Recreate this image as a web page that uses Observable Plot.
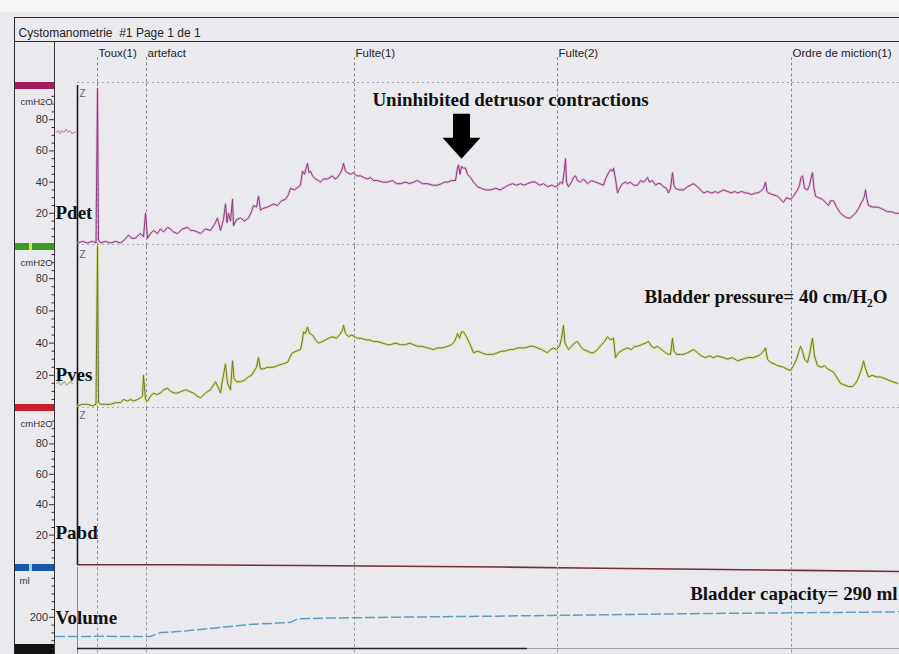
<!DOCTYPE html>
<html>
<head>
<meta charset="utf-8">
<script src="https://cdn.jsdelivr.net/npm/d3@7"></script>
<script src="https://cdn.jsdelivr.net/npm/@observablehq/plot@0.6"></script>
<style>
  html, body { margin: 0; padding: 0; background: #ffffff; }
  #page { position: relative; width: 899px; height: 654px; overflow: hidden; background: #eaeaee; }
  #page .deco { position: absolute; }
  #page svg { position: absolute; left: 0; }
</style>
</head>
<body>
<div id="page">
  <div class="deco" style="left:0;top:0;width:899px;height:12px;background:#f8f8f9"></div>
  <div class="deco" style="left:15px;top:17px;width:884px;height:0;border-top:1.6px solid #2a2a2a"></div>
  <div class="deco" style="left:15px;top:41px;width:884px;height:0;border-top:1.6px solid #2a2a2a"></div>
  <div class="deco" style="left:14px;top:17px;width:0;height:637px;border-left:1.6px solid #2a2a2a"></div>
  <div class="deco" style="left:54px;top:41px;width:0;height:613px;border-left:1.4px solid #3a3a3a"></div>
  <div class="deco" style="left:15px;top:82px;width:39px;height:7px;background:#a21d5c"></div>
  <div class="deco" style="left:15px;top:243px;width:39px;height:7px;background:#3e9a2d"></div>
  <div class="deco" style="left:29px;top:243px;width:3px;height:7px;background:#e8e030"></div>
  <div class="deco" style="left:15px;top:404px;width:39px;height:7px;background:#c81e2a"></div>
  <div class="deco" style="left:15px;top:564px;width:39px;height:7px;background:#1858a8"></div>
  <div class="deco" style="left:29px;top:564px;width:3px;height:7px;background:#9ad0f0"></div>
  <div class="deco" style="left:15px;top:644px;width:39px;height:10px;background:#111"></div>
</div>
<script>
// ---------- data (time in seconds, pressure in cmH2O, volume in ml) ----------
const T_START = -44, T_ZERO = 0, T_END = 1644;

const events = [
  {t: 40, label: "Toux(1)"},
  {t: 138, label: "artefact"},
  {t: 554, label: "Fulte(1)"},
  {t: 960, label: "Fulte(2)"},
  {t: 1428, label: "Ordre de miction(1)"}
];

const pressureTicks = [20, 40, 60, 80];
const pressureMinor = [5, 10, 15, 25, 30, 35, 45, 50, 55, 65, 70, 75, 85, 90, 95];
const volumeTicks = [200];
const volumeMinor = [0, 50, 100, 150, 250, 300, 350, 400, 450];

const pdetPre = [[-42,72],[-38,73],[-35,71],[-31,73],[-27,72],[-23,74],[-19,72],[-15,73],[-11,71],[-7,72],[-4,72]];
const pdet = [
[0,1],[10,2],[20,1],[30,2],[37,1],[40,100],[42,3],[46,1],[56,2],[66,1],[76,2],[86,1],[94,3],[102,6],[108,4],[116,4],[122,6],[126,7],[132,5],[136,20],[140,4],[146,7],[152,9],[160,7],[166,10],[172,8],[180,11],[186,10],[192,8],[200,7],[210,10],[220,11],[226,9],[232,9],[240,8],[246,7],[256,10],[266,9],[274,13],[280,17],[286,9],[292,16],[296,26],[299,14],[302,20],[306,15],[310,29],[312,12],[318,16],[326,17],[334,15],[342,17],[348,21],[352,25],[358,24],[362,31],[366,22],[370,23],[380,24],[392,26],[400,25],[408,28],[416,29],[422,32],[426,36],[434,35],[442,37],[446,38],[450,47],[454,45],[458,50],[460,52],[463,46],[466,47],[470,44],[476,42],[482,41],[486,40],[492,42],[500,42],[505,43],[510,44],[515,42],[520,43],[526,46],[530,49],[532,52],[536,47],[540,46],[546,45],[552,46],[558,44],[566,44],[572,43],[580,42],[586,43],[592,41],[600,41],[610,40],[620,40],[630,41],[638,39],[646,39],[656,40],[664,39],[672,40],[680,41],[690,39],[700,39],[710,38],[720,38],[728,39],[734,40],[740,40],[748,41],[756,41],[760,49],[762,51],[765,45],[768,50],[772,49],[776,49],[780,45],[786,43],[792,40],[800,37],[808,36],[816,35],[826,35],[836,36],[846,35],[856,37],[862,38],[870,39],[878,38],[886,39],[892,38],[900,39],[908,40],[916,40],[924,38],[932,39],[940,37],[948,38],[956,37],[962,38],[966,40],[970,39],[974,48],[976,55],[978,40],[982,37],[988,40],[992,43],[996,44],[1000,41],[1006,40],[1012,42],[1020,39],[1028,41],[1036,40],[1044,39],[1052,38],[1056,42],[1062,46],[1066,48],[1070,47],[1072,49],[1076,42],[1080,33],[1084,36],[1090,39],[1096,40],[1100,39],[1106,40],[1112,38],[1120,38],[1126,41],[1132,40],[1138,42],[1140,43],[1144,40],[1150,41],[1156,38],[1160,39],[1166,39],[1172,37],[1178,36],[1182,33],[1186,36],[1190,46],[1193,38],[1196,36],[1204,35],[1212,35],[1220,37],[1226,38],[1232,39],[1240,37],[1246,35],[1252,33],[1260,34],[1268,33],[1276,34],[1280,33],[1286,34],[1292,35],[1300,34],[1308,33],[1314,34],[1320,33],[1328,34],[1336,33],[1340,33],[1348,32],[1356,33],[1360,33],[1366,34],[1372,36],[1376,40],[1379,34],[1382,33],[1390,32],[1400,31],[1406,29],[1412,27],[1418,30],[1426,29],[1432,31],[1436,33],[1440,35],[1444,38],[1447,43],[1450,44],[1454,36],[1460,35],[1464,38],[1468,44],[1470,46],[1473,36],[1476,31],[1482,30],[1490,29],[1496,27],[1502,25],[1506,28],[1512,28],[1518,24],[1526,20],[1534,18],[1540,17],[1546,17],[1552,19],[1556,20],[1562,23],[1568,27],[1570,28],[1574,31],[1576,35],[1579,29],[1582,25],[1590,24],[1600,24],[1608,23],[1614,22],[1620,21],[1628,21],[1636,20],[1642,20]
];

const pvesPre = [[-42,15],[-38,16],[-34,14],[-30,15],[-26,16],[-22,14],[-18,15],[-14,16],[-10,15]];
const pves = [
[0,1],[10,2],[20,2],[30,1],[37,2],[40,100],[42,3],[46,2],[56,2],[66,2],[76,3],[86,3],[92,5],[100,4],[106,5],[112,4],[120,5],[126,6],[130,7],[132,20],[136,5],[140,4],[146,7],[152,9],[158,8],[166,9],[172,11],[180,12],[186,10],[194,9],[200,9],[208,10],[216,11],[224,10],[232,9],[240,7],[246,6],[256,9],[266,11],[272,14],[276,16],[282,12],[286,9],[290,17],[296,27],[300,15],[306,11],[310,29],[313,18],[318,16],[326,16],[334,17],[342,19],[348,20],[352,22],[358,25],[362,31],[366,24],[372,24],[380,25],[392,25],[400,26],[410,27],[420,28],[426,32],[430,34],[438,35],[446,36],[450,42],[452,47],[456,46],[460,50],[464,46],[470,45],[476,42],[482,40],[490,41],[496,42],[502,43],[510,44],[518,43],[524,45],[530,48],[532,51],[536,46],[542,44],[548,45],[554,44],[560,43],[568,43],[576,42],[584,42],[592,41],[600,41],[610,40],[620,39],[626,39],[636,40],[646,39],[656,39],[664,40],[672,39],[680,38],[690,38],[700,37],[712,36],[720,37],[730,37],[740,38],[748,39],[754,41],[758,44],[760,46],[764,43],[768,47],[772,47],[778,44],[784,40],[792,34],[800,35],[808,34],[816,33],[824,33],[832,33],[840,34],[848,35],[856,35],[864,36],[872,36],[880,37],[888,37],[896,37],[904,38],[912,38],[920,37],[928,36],[934,35],[940,34],[946,36],[952,37],[958,36],[964,38],[968,43],[972,51],[975,40],[982,36],[988,38],[994,40],[1000,41],[1006,38],[1012,36],[1020,35],[1026,34],[1032,34],[1040,36],[1048,39],[1054,41],[1060,44],[1066,42],[1072,43],[1076,31],[1082,34],[1092,36],[1100,37],[1108,36],[1114,38],[1120,38],[1128,39],[1136,40],[1142,41],[1148,38],[1154,37],[1160,38],[1168,36],[1176,34],[1182,33],[1186,33],[1190,43],[1193,35],[1198,33],[1206,33],[1212,33],[1220,34],[1226,35],[1232,36],[1240,34],[1248,32],[1256,31],[1264,32],[1272,31],[1280,32],[1292,31],[1300,30],[1310,31],[1320,29],[1330,30],[1340,31],[1352,31],[1360,32],[1366,33],[1372,35],[1376,37],[1380,30],[1386,28],[1394,27],[1400,26],[1412,25],[1418,24],[1426,23],[1432,26],[1438,30],[1442,34],[1446,38],[1450,35],[1454,30],[1460,28],[1464,33],[1468,40],[1470,43],[1474,32],[1480,26],[1488,25],[1494,26],[1500,24],[1506,23],[1512,22],[1518,19],[1526,15],[1534,14],[1542,13],[1550,13],[1556,15],[1560,17],[1566,22],[1570,26],[1572,29],[1576,24],[1582,19],[1590,20],[1598,19],[1606,19],[1614,18],[1622,17],[1630,16],[1640,15]
];

const pabd = [[0,0.5],[200,0.5],[446,0],[646,-0.5],[846,-1],[1046,-1.8],[1246,-2.5],[1446,-3.2],[1644,-4]];

const volume = [[-44,77],[0,77],[46,78],[146,77],[166,102],[206,110],[246,122],[300,140],[350,155],[400,163],[426,167],[440,190],[500,195],[646,201],[800,206],[946,212],[1100,218],[1246,224],[1400,228],[1550,232],[1644,235]];

const contractionPeak = {t: 768, v: 55};

// ---------- drawing ----------
const page = document.getElementById("page");
const W = 899;
const SANS = '"Liberation Sans", Arial, sans-serif';
const SERIF = '"Liberation Serif", "Times New Roman", serif';
const styleBase = {background: "transparent", overflow: "visible", fontFamily: SANS, fontSize: "11px", color: "#333"};
const bold = {fontFamily: SERIF, fontWeight: "bold", fontSize: 19, fill: "#111", lineAnchor: "bottom"};
const unitText = {frameAnchor: "top-left", lineAnchor: "bottom", textAnchor: "start", fontSize: 9.5, fill: "#333"};
const X = d => d[0], Y = d => d[1];

function addPlot(top, height, mt, mb, domain, marks) {
  const svg = Plot.plot({
    width: W, height, marginLeft: 55, marginRight: 0, marginTop: mt, marginBottom: mb,
    x: {domain: [T_START, T_END], axis: null},
    y: {domain, axis: null},
    style: styleBase,
    marks
  });
  svg.style.top = top + "px";
  page.append(svg);
}

function axes(major, minor) {
  return [
    Plot.axisY({ticks: minor, tickSize: 3.5, tickFormat: () => "", label: null, stroke: "#333"}),
    Plot.axisY({ticks: major, tickSize: 6, tickPadding: 1.5, label: null, stroke: "#333", fontSize: 11})
  ];
}

const eventRules = (insetTop, insetBottom, stroke = "#8a8a8e") =>
  Plot.ruleX(events, {x: "t", stroke, strokeDasharray: "3,2.5", strokeWidth: 1, insetTop, insetBottom});

// header
addPlot(0, 83, 57, 1, [0, 1], [
  Plot.ruleY([0], {x1: T_ZERO, x2: T_END, stroke: "#9d9daa", strokeDasharray: "2,3"}),
  eventRules(0, 0),
  Plot.text(events, {x: "t", text: "label", frameAnchor: "top", dx: 1, dy: -1, lineAnchor: "bottom", textAnchor: "start", fontSize: 11.5, fill: "#222"}),
  Plot.text(["Cystomanometrie  #1 Page 1 de 1"], {text: d => d, frameAnchor: "top-left", dx: -37, dy: -21, lineAnchor: "bottom", textAnchor: "start", fontSize: 12, fill: "#222"})
]);

// Pdet
addPlot(83, 163, 5, 2, [0, 100], [
  ...axes(pressureTicks, pressureMinor),
  Plot.text(["cmH2O"], {text: d => d, dx: -35, dy: 16, ...unitText}),
  Plot.ruleY([0], {x1: T_ZERO, x2: T_END, stroke: "#a8a8b4", strokeDasharray: "2,3"}),
  eventRules(-5, -2),
  Plot.ruleX([T_ZERO], {stroke: "#1a1a1a", strokeWidth: 1.6, insetTop: -3, insetBottom: -2}),
  Plot.text(["Z"], {text: d => d, x: T_ZERO, frameAnchor: "top", dx: 2, dy: 8, lineAnchor: "bottom", textAnchor: "start", fontSize: 10, fill: "#666"}),
  Plot.line(pdetPre, {x: X, y: Y, stroke: "#c890b8", strokeWidth: 1.2}),
  Plot.line(pdet, {x: X, y: Y, stroke: "#dcaad0", strokeWidth: 2.6, strokeOpacity: 0.6}),
  Plot.line(pdet, {x: X, y: Y, stroke: "#8c3a78", strokeWidth: 1}),
  Plot.text(["Pdet"], {text: d => d, frameAnchor: "bottom-left", dy: -26, textAnchor: "start", ...bold}),
  Plot.text(["Uninhibited detrusor contractions"], {text: d => d, frameAnchor: "top", dx: 33, dy: 17, textAnchor: "middle", ...bold}),
  Plot.dot([contractionPeak], {x: "t", y: "v", fill: "#000", stroke: "none", symbol: {
    draw(ctx) {
      ctx.moveTo(0, 0); ctx.lineTo(-19, -21); ctx.lineTo(-8.5, -21); ctx.lineTo(-8.5, -45);
      ctx.lineTo(8.5, -45); ctx.lineTo(8.5, -21); ctx.lineTo(19, -21); ctx.closePath();
    }
  }})
]);

// Pves
addPlot(246, 162, 0, 1, [0, 100], [
  ...axes(pressureTicks, pressureMinor),
  Plot.text(["cmH2O"], {text: d => d, dx: -35, dy: 19, ...unitText}),
  Plot.ruleY([0], {x1: T_ZERO, x2: T_END, stroke: "#a8a8b4", strokeDasharray: "2,3"}),
  eventRules(0, -1),
  Plot.ruleX([T_ZERO], {stroke: "#1a1a1a", strokeWidth: 1.6, insetTop: 0, insetBottom: -1}),
  Plot.text(["Z"], {text: d => d, x: T_ZERO, frameAnchor: "top", dx: 2, dy: 11, lineAnchor: "bottom", textAnchor: "start", fontSize: 10, fill: "#666"}),
  Plot.line(pvesPre, {x: X, y: Y, stroke: "#a8b060", strokeWidth: 1.2}),
  Plot.line(pves, {x: X, y: Y, stroke: "#d4dc78", strokeWidth: 2.8, strokeOpacity: 0.7}),
  Plot.line(pves, {x: X, y: Y, stroke: "#6c7628", strokeWidth: 1}),
  Plot.text(["Pves"], {text: d => d, frameAnchor: "bottom-left", dy: -27, textAnchor: "start", ...bold}),
  Plot.text(["Bladder pressure= 40 cm/H\u2082O"], {text: d => d, frameAnchor: "top-right", dx: -12, dy: 56, textAnchor: "end", ...bold})
]);

// Pabd
addPlot(408, 159, 5, 2, [0, 100], [
  ...axes(pressureTicks, pressureMinor),
  Plot.text(["cmH2O"], {text: d => d, dx: -35, dy: 13, ...unitText}),
  eventRules(-5, -2),
  Plot.ruleX([T_ZERO], {stroke: "#1a1a1a", strokeWidth: 1.6, insetTop: -5, insetBottom: 0}),
  Plot.text(["Z"], {text: d => d, x: T_ZERO, frameAnchor: "top", dx: 2, dy: 5, lineAnchor: "bottom", textAnchor: "start", fontSize: 10, fill: "#666"}),
  Plot.line(pabd, {x: X, y: Y, stroke: "#7a2c34", strokeWidth: 1.6}),
  Plot.text(["Pabd"], {text: d => d, frameAnchor: "bottom-left", dy: -27, textAnchor: "start", ...bold})
]);

// Volume
addPlot(567, 87, 3, 6, [0, 500], [
  ...axes(volumeTicks, volumeMinor),
  Plot.text(["ml"], {text: d => d, dx: -36, dy: 13, ...unitText}),
  eventRules(-3, -6, "#9a9aa0"),
  Plot.ruleX([T_ZERO], {stroke: "#c07080", strokeWidth: 1, insetTop: -3, insetBottom: -6}),
  Plot.ruleY([0], {x1: T_ZERO, x2: 900, stroke: "#222", strokeWidth: 1.6}),
  Plot.ruleY([0], {x1: 900, x2: T_END, stroke: "#9a9aa0", strokeWidth: 1.2}),
  Plot.line(volume, {x: X, y: Y, stroke: "#5aa0c0", strokeWidth: 1.5, strokeDasharray: "9,4"}),
  Plot.text(["Volume"], {text: d => d, frameAnchor: "bottom-left", dy: -25, textAnchor: "start", ...bold}),
  Plot.text(["Bladder capacity= 290 ml"], {text: d => d, frameAnchor: "top-right", dx: -2, dy: 29, textAnchor: "end", ...bold})
]);
</script>
</body>
</html>
